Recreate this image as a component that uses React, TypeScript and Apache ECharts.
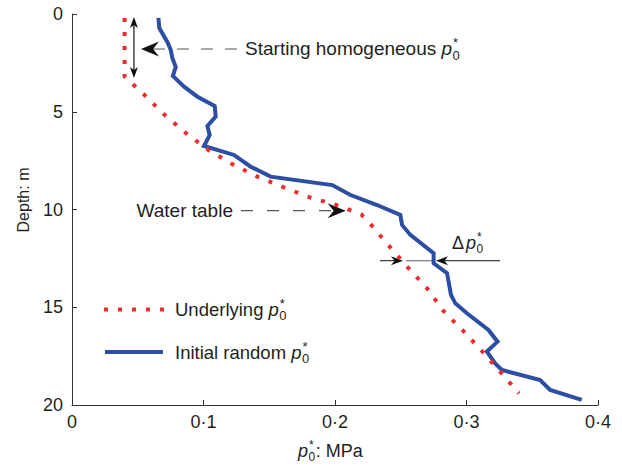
import React, { useEffect, useRef } from 'react';
import * as echarts from 'echarts';

// ---- Data ----
const blueDepth = [0.2, 0.72, 1.48, 1.84, 2.25, 2.71, 3.17, 3.72, 4.23, 4.71, 5.25, 5.73, 6.19, 6.75, 7.21, 7.81, 8.32, 8.75, 9.26, 9.77, 10.28, 10.79, 11.3, 12.24, 12.75, 13.26, 14.37, 14.8, 15.31, 16.16, 16.76, 17.27, 17.87, 18.21, 18.72, 19.23, 19.74];
const blueP = [0.0657, 0.0664, 0.0729, 0.0751, 0.0763, 0.0789, 0.0767, 0.0852, 0.0954, 0.1085, 0.1093, 0.103, 0.1047, 0.1004, 0.1232, 0.1359, 0.151, 0.1979, 0.2118, 0.232, 0.2497, 0.251, 0.2573, 0.275, 0.275, 0.2852, 0.2882, 0.2915, 0.3003, 0.3167, 0.3236, 0.3155, 0.3218, 0.3269, 0.356, 0.3636, 0.3876];

const redDepth = [0.2, 3.2, 4.16, 5.17, 6.1, 6.96, 7.69, 8.32, 8.86, 9.38, 9.77, 10.25, 10.84, 11.9, 12.98, 14.03, 15.19, 16.2, 17.24, 18.3, 19.4];
const redP = [0.04, 0.04, 0.0554, 0.0706, 0.0868, 0.1038, 0.1222, 0.1409, 0.1607, 0.1809, 0.2011, 0.22, 0.2282, 0.2416, 0.2556, 0.27, 0.2824, 0.2973, 0.3117, 0.3256, 0.34];

const xTickLabels = ['0', '0·1', '0·2', '0·3', '0·4'];
const yTickLabels = ['0', '5', '10', '15', '20'];

const seriesNames = ['Underlying', 'Initial random'];

const FONT = '"Liberation Sans", Arial, Helvetica, sans-serif';
const TXT = '#231f20';
const BLUE = '#2c4ea3';
const RED = '#ee2b2f';
const AX = '#333333';

function measure(text: string, font: string): number {
  const c = document.createElement('canvas');
  const ctx = c.getContext('2d')!;
  ctx.font = font;
  return ctx.measureText(text).width;
}

function txt(x: number, y: number, text: string, size: number, opts: any = {}) {
  return {
    type: 'text',
    x,
    y,
    rotation: opts.rotation || 0,
    silent: true,
    style: {
      text,
      fill: opts.fill || TXT,
      font: `${opts.italic ? 'italic ' : ''}${size}px ${FONT}`,
      textAlign: opts.align || 'left',
      align: opts.align || 'left',
      textVerticalAlign: 'middle',
      verticalAlign: 'middle',
    },
  };
}

// text with "p" italic, subscript 0 and superscript * stacked
function pLabel(x: number, y: number, prefix: string, suffix: string, size: number) {
  const els: any[] = [];
  let cx = x;
  if (prefix) {
    els.push(txt(cx, y, prefix, size));
    cx += measure(prefix, `${size}px ${FONT}`);
  }
  els.push(txt(cx, y, 'p', size, { italic: true }));
  cx += measure('p', `italic ${size}px ${FONT}`) + 0.5;
  const s = Math.round(size * 0.68);
  els.push(txt(cx, y + size * 0.34, '0', s));
  els.push(txt(cx + 0.5, y - size * 0.32, '*', s));
  cx += measure('0', `${s}px ${FONT}`) + 0.5;
  if (suffix) els.push(txt(cx, y, suffix, size));
  return els;
}

function stealth(tip: number[], ang: number, len: number, half: number, notch: number, fill = '#111') {
  const [tx, ty] = tip;
  const ux = Math.cos(ang), uy = Math.sin(ang);
  const px = -uy, py = ux;
  const bx = tx - ux * len, by = ty - uy * len;
  const nx = tx - ux * (len - notch), ny = ty - uy * (len - notch);
  return {
    type: 'polygon',
    silent: true,
    shape: { points: [[tx, ty], [bx + px * half, by + py * half], [nx, ny], [bx - px * half, by - py * half]] },
    style: { fill },
  };
}

function seg(a: number[], b: number[], color: string, width = 1, dash?: number[]) {
  return {
    type: 'line',
    silent: true,
    shape: { x1: a[0], y1: a[1], x2: b[0], y2: b[1] },
    style: { stroke: color, lineWidth: width, lineDash: dash },
  };
}

export default function App() {
  const ref = useRef<HTMLDivElement>(null);
  useEffect(() => {
    const chart = echarts.init(ref.current!, null, { renderer: 'svg' });
    const labelStyle = { color: TXT, fontSize: 18, fontFamily: FONT };
    chart.setOption({
      animation: false,
      grid: { left: 72, top: 14, width: 526, height: 391 },
      xAxis: {
        type: 'value',
        min: 0,
        max: 0.4,
        interval: 0.1,
        axisLine: { show: true, onZero: false, lineStyle: { color: AX, width: 1 } },
        axisTick: { show: true, inside: true, length: 5, lineStyle: { color: AX } },
        splitLine: { show: false },
        axisLabel: { ...labelStyle, margin: 8, formatter: (v: number) => xTickLabels[Math.round(v / 0.1)] },
      },
      yAxis: {
        type: 'value',
        inverse: true,
        min: 0,
        max: 20,
        interval: 5,
        axisLine: { show: true, onZero: false, lineStyle: { color: AX, width: 1 } },
        axisTick: { show: true, inside: true, length: 5, lineStyle: { color: AX } },
        splitLine: { show: false },
        axisLabel: { ...labelStyle, margin: 9, formatter: (v: number) => yTickLabels[Math.round(v / 5)] },
      },
      series: [
        {
          name: seriesNames[0],
          type: 'line',
          symbol: 'none',
          data: redDepth.map((d, i) => [redP[i], d]),
          lineStyle: { color: RED, width: 4, type: [4, 10], cap: 'butt' },
          z: 3,
        },
        {
          name: seriesNames[1],
          type: 'line',
          symbol: 'none',
          data: blueDepth.map((d, i) => [blueP[i], d]),
          lineStyle: { color: BLUE, width: 4, join: 'miter' },
          z: 2,
        },
      ],
    });

    const P = (x: number, d: number) => chart.convertToPixel({ gridIndex: 0 }, [x, d]) as number[];
    const g: any[] = [];

    // Starting homogeneous annotation
    const hTip = P(0.0525, 1.79);
    const hEnd = P(0.1255, 1.79);
    g.push(seg([hTip[0] + 12, hTip[1]], hEnd, '#555', 1.2, [12, 12]));
    g.push(stealth(hTip, Math.PI, 18, 7.5, 6));
    g.push(...pLabel(hEnd[0] + 8, hTip[1], 'Starting homogeneous ', '', 19));
    // double headed arrow
    const dTop = P(0.0471, 0.15);
    const dBot = P(0.0471, 3.28);
    g.push(seg([dTop[0], dTop[1] + 4], [dBot[0], dBot[1] - 4], '#111', 1.2));
    g.push(stealth(dTop, -Math.PI / 2, 11, 4, 3));
    g.push(stealth(dBot, Math.PI / 2, 11, 4, 3));

    // Water table annotation
    const wTip = P(0.2081, 10.06);
    const wStart = P(0.1285, 10.06);
    g.push(seg(wStart, [wTip[0] - 12, wTip[1]], '#555', 1.2, [12, 14]));
    g.push(stealth(wTip, 0, 18, 7.5, 6));
    g.push(txt(wStart[0] - 8, wTip[1], 'Water table', 19, { align: 'right' }));

    // Delta p0 annotation
    const aL = P(0.2342, 12.62);
    const aRedTip = P(0.2517, 12.62);
    const aBlueTip = P(0.2768, 12.62);
    const aR = P(0.3255, 12.62);
    g.push(seg(aL, [aRedTip[0] - 6, aRedTip[1]], '#111', 1));
    g.push(seg([aRedTip[0] + 3, aRedTip[1]], [aBlueTip[0] - 2, aBlueTip[1]], '#777', 1.2));
    g.push(seg([aBlueTip[0] + 6, aBlueTip[1]], aR, '#111', 1));
    g.push(stealth(aRedTip, 0, 12, 4.5, 3.5));
    g.push(stealth(aBlueTip, Math.PI, 12, 4.5, 3.5));
    const dl = P(0.289, 11.71);
    g.push(txt(dl[0], dl[1], 'Δ', 18));
    g.push(...pLabel(dl[0] + measure('Δ', `18px ${FONT}`) + 2, dl[1], '', '', 18));

    // Legend
    g.push({
      type: 'line', silent: true,
      shape: { x1: 104, y1: 309.5, x2: 166, y2: 309.5 },
      style: { stroke: RED, lineWidth: 4, lineDash: [4, 10], lineCap: 'butt' },
    });
    g.push(...pLabel(175, 309.5, seriesNames[0] + ' ', '', 18.5));
    g.push(seg([105, 352], [163, 352], BLUE, 4));
    g.push(...pLabel(175, 352, seriesNames[1] + ' ', '', 18.5));

    // Axis titles
    g.push(...pLabel(298, 451, '', ': MPa', 18));
    g.push(txt(23, 200, 'Depth: m', 16, { rotation: Math.PI / 2, align: 'center' }));

    chart.setOption({ graphic: { elements: g } });
    return () => chart.dispose();
  }, []);
  return <div ref={ref} style={{ position: 'absolute', left: 0, top: 0, width: 622, height: 469 }} />;
}
